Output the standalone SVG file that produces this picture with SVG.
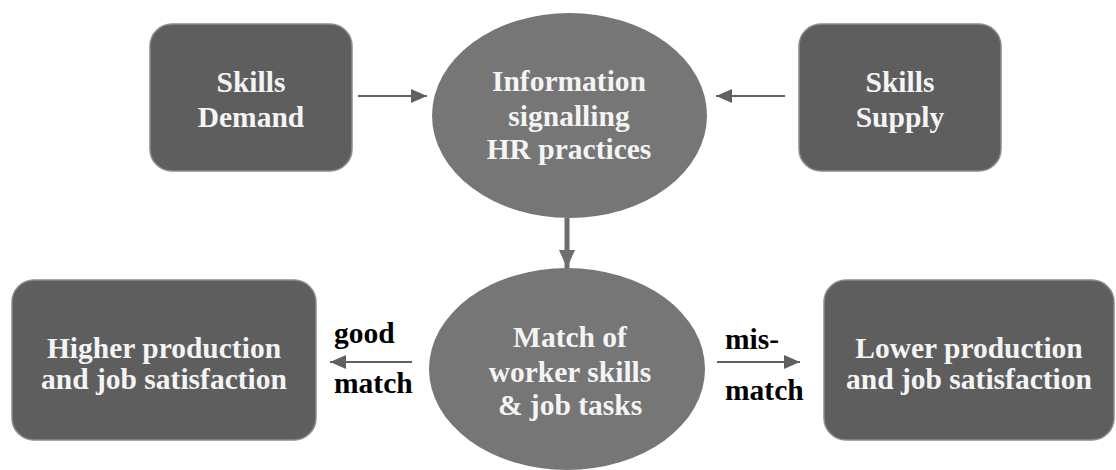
<svg xmlns="http://www.w3.org/2000/svg" width="1116" height="470" viewBox="0 0 1116 470">
<defs>
<marker id="ah" viewBox="0 0 16 14" refX="16" refY="7" markerWidth="16" markerHeight="14" markerUnits="userSpaceOnUse" orient="auto">
<path d="M0,0 L16,7 L0,14 Z" fill="#606060"/>
</marker>
<marker id="ahd" viewBox="0 0 18 16" refX="18" refY="8" markerWidth="18" markerHeight="16" markerUnits="userSpaceOnUse" orient="auto">
<path d="M0,0 L18,8 L0,16 Z" fill="#6e6e6e"/>
</marker>
</defs>
<style>
.box{fill:#5e5e5e;stroke:#8c8c8c;stroke-width:1.5}
.ell{fill:#767676}
.t{font-family:"Liberation Serif","Times New Roman",serif;font-weight:bold;font-size:29.5px;fill:#f4f4f4;text-anchor:middle}
.lbl{font-family:"Liberation Serif","Times New Roman",serif;font-weight:bold;font-size:29.5px;fill:#000}
.c{stroke:#606060;stroke-width:2;fill:none}
</style>
<rect width="1116" height="470" fill="#fff"/>
<g id="connectors">
<line class="c" x1="358" y1="96" x2="427" y2="96" marker-end="url(#ah)"/>
<line class="c" x1="785" y1="96" x2="716" y2="96" marker-end="url(#ah)"/>
<line x1="567" y1="218" x2="567" y2="268" stroke="#6e6e6e" stroke-width="5" marker-end="url(#ahd)"/>
<line class="c" x1="412" y1="362" x2="330" y2="362" marker-end="url(#ah)"/>
<line class="c" x1="717" y1="362" x2="800" y2="362" marker-end="url(#ah)"/>
<text class="lbl" x="334" y="343">good</text>
<text class="lbl" x="334" y="393">match</text>
<text class="lbl" x="725" y="349">mis-</text>
<text class="lbl" x="725" y="400">match</text>
</g>
<g id="skills-demand">
<rect class="box" x="150" y="24" width="202" height="147" rx="22"/>
<text class="t" x="251" y="92">Skills</text>
<text class="t" x="251" y="127">Demand</text>
</g>
<g id="information">
<ellipse class="ell" cx="569.5" cy="115.5" rx="137.5" ry="102.5"/>
<text class="t" x="569" y="91">Information</text>
<text class="t" x="569" y="126">signalling</text>
<text class="t" x="569" y="159">HR practices</text>
</g>
<g id="skills-supply">
<rect class="box" x="799" y="24" width="202" height="147" rx="22"/>
<text class="t" x="900" y="92">Skills</text>
<text class="t" x="900" y="127">Supply</text>
</g>
<g id="higher">
<rect class="box" x="12" y="280" width="304" height="160" rx="22"/>
<text class="t" x="164" y="358">Higher production</text>
<text class="t" x="164" y="389">and job satisfaction</text>
</g>
<g id="match">
<ellipse class="ell" cx="567" cy="369" rx="138" ry="101"/>
<text class="t" x="570" y="347">Match of</text>
<text class="t" x="570" y="382">worker skills</text>
<text class="t" x="570" y="415">&amp; job tasks</text>
</g>
<g id="lower">
<rect class="box" x="824" y="280" width="290" height="160" rx="22"/>
<text class="t" x="969" y="358">Lower production</text>
<text class="t" x="969" y="389">and job satisfaction</text>
</g>
</svg>
